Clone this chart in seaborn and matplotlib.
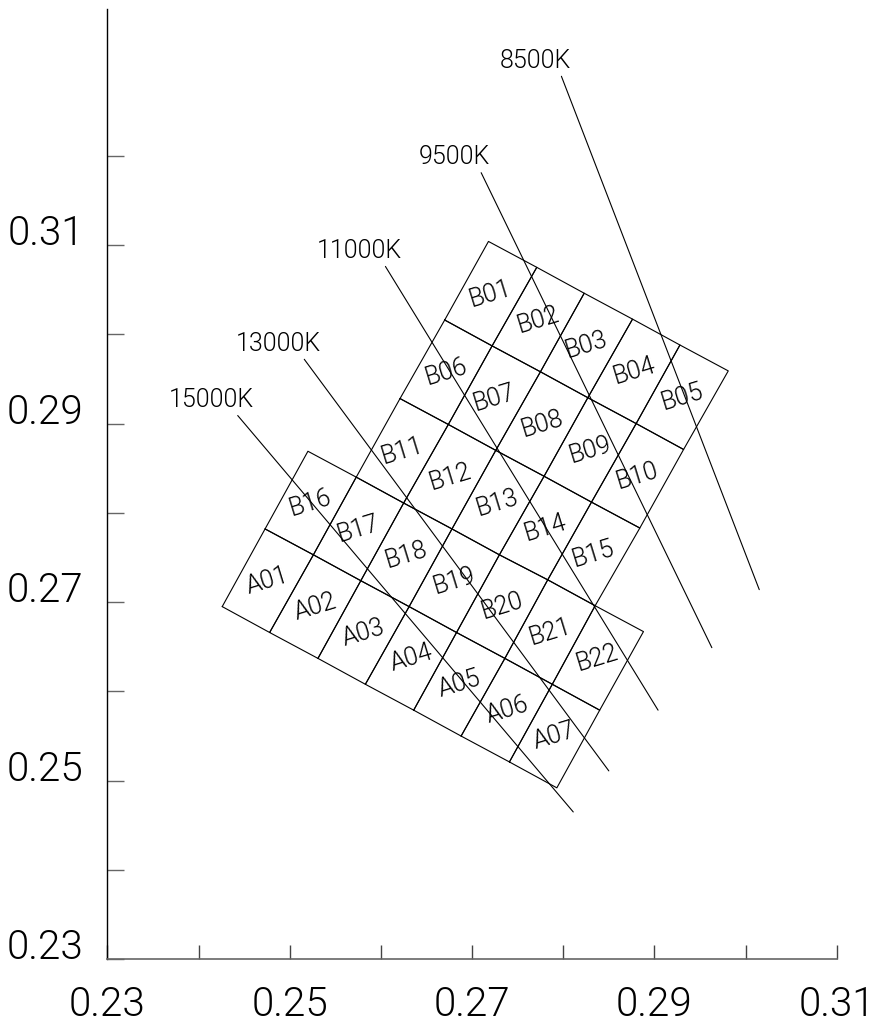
import matplotlib
matplotlib.use("Agg")
import matplotlib.pyplot as plt
import numpy as np
import pandas as pd
import seaborn as sns


# chromaticity nodes of the lower block (node rows 0-2, columns 0-7)
low_x = [
    [0.2426, 0.2478, 0.2531, 0.2583, 0.2636, 0.2688, 0.2741, 0.2793],
    [0.2473, 0.2526, 0.2578, 0.2631, 0.2683, 0.2736, 0.2788, 0.2840],
    [0.2520, 0.2573, 0.2625, 0.2678, 0.2730, 0.2783, 0.2835, 0.2888],
]
low_y = [
    [0.2695, 0.2666, 0.2637, 0.2608, 0.2579, 0.2550, 0.2521, 0.2492],
    [0.2782, 0.2753, 0.2724, 0.2695, 0.2666, 0.2637, 0.2608, 0.2579],
    [0.2869, 0.2840, 0.2811, 0.2782, 0.2753, 0.2725, 0.2696, 0.2667],
]
low_names = [
    ["A01", "A02", "A03", "A04", "A05", "A06", "A07"],
    ["B16", "B17", "B18", "B19", "B20", "B21", "B22"],
]

# upper block (node rows 2-5, columns 1-6)
up_x = [
    [0.2573, 0.2625, 0.2678, 0.2730, 0.2783, 0.2835],
    [0.2621, 0.2674, 0.2726, 0.2779, 0.2831, 0.2884],
    [0.2670, 0.2722, 0.2775, 0.2827, 0.2880, 0.2932],
    [0.2718, 0.2771, 0.2823, 0.2876, 0.2928, 0.2981],
]
up_y = [
    [0.2840, 0.2811, 0.2782, 0.2753, 0.2725, 0.2696],
    [0.2928, 0.2899, 0.2870, 0.2841, 0.2812, 0.2783],
    [0.3016, 0.2987, 0.2958, 0.2929, 0.2900, 0.2871],
    [0.3104, 0.3075, 0.3046, 0.3017, 0.2988, 0.2959],
]
up_names = [
    ["B11", "B12", "B13", "B14", "B15"],
    ["B06", "B07", "B08", "B09", "B10"],
    ["B01", "B02", "B03", "B04", "B05"],
]

# isotherm lines
cct_names = ["8500K", "9500K", "11000K", "13000K", "15000K"]
cct_x0 = [0.2798, 0.2710, 0.2605, 0.2516, 0.2443]
cct_y0 = [0.3289, 0.3181, 0.3076, 0.2972, 0.2909]
cct_x1 = [0.3015, 0.2963, 0.2904, 0.2850, 0.2811]
cct_y1 = [0.2714, 0.2649, 0.2579, 0.2511, 0.2465]

x_ticks = [0.23, 0.24, 0.25, 0.26, 0.27, 0.28, 0.29, 0.30, 0.31]
x_labels = ["0.23", "", "0.25", "", "0.27", "", "0.29", "", "0.31"]
y_ticks = [0.23, 0.24, 0.25, 0.26, 0.27, 0.28, 0.29, 0.30, 0.31, 0.32]
y_labels = ["0.23", "", "0.25", "", "0.27", "", "0.29", "", "0.31", ""]


sns.set_style("ticks")
plt.rcParams["font.family"] = ["Roboto", "DejaVu Sans"]
plt.rcParams["font.weight"] = 300
plt.rcParams["text.color"] = "black"
plt.rcParams["xtick.labelcolor"] = "black"
plt.rcParams["ytick.labelcolor"] = "black"

# outlines of every bin as closed polylines
rows = []
labels = []
for xs, ys, names in [(low_x, low_y, low_names), (up_x, up_y, up_names)]:
    for r, row in enumerate(names):
        for c, name in enumerate(row):
            corners = [(r, c), (r, c + 1), (r + 1, c + 1), (r + 1, c), (r, c)]
            for k, (i, j) in enumerate(corners):
                rows.append({"cell": name, "order": k, "x": xs[i][j], "y": ys[i][j]})
            cx = np.mean([xs[i][j] for i, j in corners[:4]])
            cy = np.mean([ys[i][j] for i, j in corners[:4]])
            labels.append((name, cx, cy))
cells = pd.DataFrame(rows)

iso = pd.DataFrame({
    "cct": cct_names * 2,
    "x": cct_x0 + cct_x1,
    "y": cct_y0 + cct_y1,
})

fig = plt.figure(figsize=(8.74, 10.23), dpi=100)
ax = fig.add_axes([0.1228, 0.0623, 0.8346, 0.9286])

sns.lineplot(data=cells, x="x", y="y", units="cell", estimator=None,
             sort=False, color="black", lw=0.8, ax=ax)
sns.lineplot(data=iso, x="x", y="y", units="cct", estimator=None,
             sort=False, color="black", lw=0.8, ax=ax)

for name, cx, cy in labels:
    ax.text(cx, cy, name, ha="center", va="center", rotation=17, fontsize=18)

for name, x0, y0 in zip(cct_names, cct_x0, cct_y0):
    ax.annotate(name, (x0, y0), xytext=(-19, 11), textcoords="offset points",
                ha="center", va="center", fontsize=18)

ax.set_xlim(0.23, 0.31)
ax.set_ylim(0.23, 0.3364)
ax.set_xticks(x_ticks)
ax.set_xticklabels(x_labels)
ax.set_yticks(y_ticks)
ax.set_yticklabels(y_labels)
plt.setp(ax.get_yticklabels(), va="baseline")
ax.set_xlabel("")
ax.set_ylabel("")

sns.despine(ax=ax)
ax.spines["left"].set_color("black")
ax.spines["bottom"].set_color("#666666")
ax.spines["left"].set_linewidth(1.0)
ax.spines["bottom"].set_linewidth(1.2)
ax.tick_params(axis="x", direction="in", length=10, width=1, color="#444444",
               labelsize=29, pad=19)
ax.tick_params(axis="y", direction="in", length=12, width=1, color="#666666",
               labelsize=29, pad=17)

fig.savefig("out.png", dpi=100)
